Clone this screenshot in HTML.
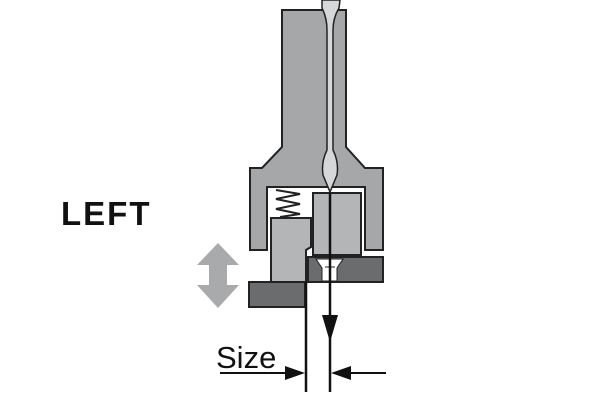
<!DOCTYPE html>
<html><head><style>body{margin:0;background:#fff}svg{display:block}</style></head>
<body>
<svg width="600" height="400" viewBox="0 0 600 400" xmlns="http://www.w3.org/2000/svg">
<rect width="600" height="400" fill="#fff"/>
<text x="61" y="225" font-family="Liberation Sans, sans-serif" font-weight="bold" font-size="33" letter-spacing="2" fill="#111">LEFT</text>
<polygon points="218,243 239,265 227,265 227,285 239,285 218,308 197,285 209,285 209,265 197,265" fill="#a9aaac"/>
<path d="M282,10 L346,10 L346,147 L365,168 L383,168 L383,250 L365,250 L365,187 L267,187 L267,250 L250,250 L250,168 L262,168 L282,147 Z" fill="#a6a7a9" stroke="#222" stroke-width="2"/>
<path d="M322,0 L340,0 L339,8 Q333,18 333,30 L333,150 Q339,162 337,175 L330,192 L323,175 Q321,162 327,150 L327,30 Q327,18 322,8 Z" fill="#d6d7d9" stroke="#222" stroke-width="1.5"/>
<polyline points="276,190 300,194 276,199 300,204 276,209 300,214 280,217" fill="none" stroke="#222" stroke-width="2"/>
<path d="M271,218 L311,218 L311,247 L306,250 L306,282 L271,282 Z" fill="#b4b5b7" stroke="#222" stroke-width="2"/>
<rect x="313" y="193" width="48" height="62" fill="#b4b5b7" stroke="#222" stroke-width="2"/>
<rect x="308" y="257" width="75" height="25" fill="#6b6c6e" stroke="#222" stroke-width="2"/>
<path d="M316,259 L343,259 L337,268 L337,281 L322,281 L322,268 Z" fill="#fff" stroke="#222" stroke-width="1"/>
<line x1="325" y1="267" x2="335" y2="267" stroke="#222" stroke-width="1"/>
<rect x="249" y="282" width="56" height="25" fill="#6b6c6e" stroke="#222" stroke-width="2"/>
<line x1="306" y1="282" x2="306" y2="392" stroke="#111" stroke-width="2.5"/>
<line x1="330" y1="193" x2="330" y2="392" stroke="#111" stroke-width="2.5"/>
<polygon points="322,315 338,315 330,342" fill="#111"/>
<text x="216" y="368" font-family="Liberation Sans, sans-serif" font-size="31" fill="#111">Size</text>
<line x1="220" y1="373" x2="290" y2="373" stroke="#111" stroke-width="2"/>
<polygon points="305,373 285,366 285,380" fill="#111"/>
<line x1="345" y1="373" x2="386" y2="373" stroke="#111" stroke-width="2"/>
<polygon points="331,373 351,366 351,380" fill="#111"/>
</svg>
</body></html>
